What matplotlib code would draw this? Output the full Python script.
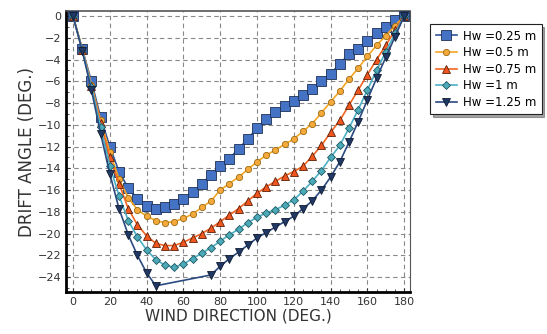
import matplotlib
matplotlib.use("Agg")
import matplotlib.pyplot as plt
from matplotlib.ticker import MultipleLocator

# wind direction (deg) -- 5 deg steps
wind = list(range(0, 181, 5))

hw_025 = [0, -3.0, -6.0, -9.3, -12.0, -14.3, -15.8, -16.8, -17.5, -17.7, -17.6, -17.3,
          -16.8, -16.2, -15.4, -14.6, -13.8, -13.1, -12.2, -11.3, -10.3, -9.5, -8.8, -8.3,
          -7.8, -7.3, -6.7, -6.0, -5.3, -4.4, -3.5, -3.0, -2.3, -1.6, -1.0, -0.4, 0]
hw_05 = [0, -3.0, -6.3, -9.6, -12.5, -15.0, -16.7, -17.8, -18.4, -18.8, -19.0, -18.9,
         -18.6, -18.2, -17.6, -17.0, -16.0, -15.4, -14.8, -14.1, -13.4, -12.8, -12.3, -11.8,
         -11.3, -10.6, -9.9, -8.9, -7.9, -6.9, -5.8, -4.8, -3.7, -2.7, -1.8, -0.9, 0]
hw_075 = [0, -3.1, -6.4, -9.8, -13.0, -15.4, -17.7, -19.2, -20.2, -20.9, -21.1, -21.1,
          -20.8, -20.4, -20.0, -19.5, -18.9, -18.3, -17.7, -17.0, -16.3, -15.7, -15.2, -14.7,
          -14.3, -13.8, -12.9, -11.9, -10.7, -9.6, -8.2, -6.8, -5.4, -4.0, -2.7, -1.3, 0]
hw_1 = [0, -3.1, -6.5, -10.2, -13.8, -16.5, -18.8, -20.3, -21.5, -22.4, -22.9, -23.1,
        -22.8, -22.3, -21.8, -21.3, -20.7, -20.1, -19.6, -19.0, -18.5, -18.1, -17.8, -17.4,
        -16.9, -16.1, -15.2, -14.2, -13.0, -11.9, -10.3, -8.6, -6.8, -5.0, -3.3, -1.6, 0]

wind_125 = [0, 5, 10, 15, 20, 25, 30, 35, 40, 45, 75, 80, 85, 90, 95, 100, 105, 110, 115,
            120, 125, 130, 135, 140, 145, 150, 155, 160, 165, 170, 175, 180]
hw_125 = [0, -3.2, -6.8, -10.8, -14.5, -17.7, -20.1, -22.0, -23.6, -24.8, -23.8, -23.0,
          -22.3, -21.7, -21.05, -20.4, -19.9, -19.4, -18.9, -18.4, -17.7, -17.0, -16.0,
          -14.8, -13.4, -11.6, -9.7, -7.7, -5.7, -3.8, -1.9, 0]

series = [
    ("Hw =0.25 m", wind, hw_025, "s", 6.5, "#4472C4", "#2F5597", "#1F2F55"),
    ("Hw =0.5 m", wind, hw_05, "o", 4.5, "#F4A93A", "#F5A623", "#9A6A10"),
    ("Hw =0.75 m", wind, hw_075, "^", 6, "#F0561D", "#F26522", "#5A2008"),
    ("Hw =1 m", wind, hw_1, "D", 4.2, "#4BAAB8", "#4BB0C6", "#1F5560"),
    ("Hw =1.25 m", wind_125, hw_125, "v", 6, "#1F3864", "#2A4A80", "#0F1A30"),
]

fig = plt.figure(figsize=(5.47, 3.34), dpi=100)
ax = fig.add_axes([0.1207, 0.1257, 0.629, 0.8413])

for lbl, x, y, mk, ms, fc, lc, ec in series:
    ax.plot(x, y, color=lc, lw=1.2, marker=mk, ms=ms, mfc=fc, mec=ec, mew=0.6,
            label=lbl, zorder=3)

ax.set_xlim(-3.8, 183.2)
ax.set_ylim(-25.37, 0.46)
ax.xaxis.set_major_locator(MultipleLocator(20))
ax.xaxis.set_minor_locator(MultipleLocator(5))
ax.yaxis.set_major_locator(MultipleLocator(2))
ax.yaxis.set_minor_locator(MultipleLocator(1))
ax.grid(True, which="major", color="#888888", ls=(0, (4, 3)), lw=0.8)
ax.tick_params(which="both", direction="in", labelsize=8, colors="#333333")
ax.tick_params(which="major", length=3)
ax.tick_params(which="minor", length=2)

ax.spines["left"].set_linewidth(2)
ax.spines["bottom"].set_linewidth(2)
ax.spines["top"].set_linewidth(1.2)
ax.spines["top"].set_color("#555555")
ax.spines["right"].set_linewidth(0.8)
ax.spines["right"].set_color("#555555")

ax.set_xlabel("WIND DIRECTION (DEG.)", fontsize=11, color="#333333", labelpad=1)
ax.set_ylabel("DRIFT ANGLE (DEG.)", fontsize=12, color="#333333", labelpad=1)

leg = fig.legend(loc="upper left", bbox_to_anchor=(0.776, 0.945), fontsize=8.5,
                 frameon=True, fancybox=False, shadow=True, handlelength=1.8,
                 borderpad=0.45, labelspacing=0.3, handletextpad=0.5)
leg.get_frame().set_edgecolor("#222222")
leg.get_frame().set_linewidth(0.8)

fig.savefig("out.png", dpi=100)
